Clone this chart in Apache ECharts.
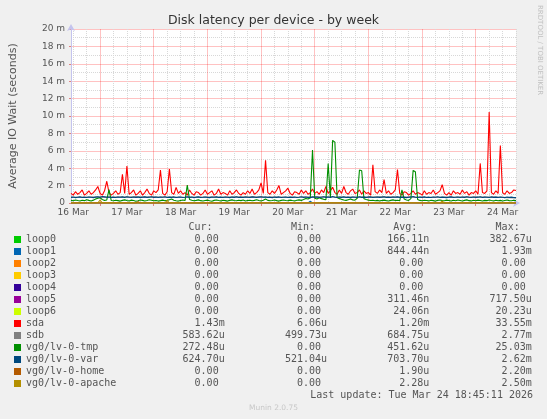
<!DOCTYPE html>
<html><head><meta charset="utf-8">
<script src="https://cdn.jsdelivr.net/npm/echarts@6/dist/echarts.min.js"></script>
<style>html,body{margin:0;padding:0;background:#f0f0f0}#c{width:547px;height:419px}</style>
</head><body><div id="c"></div>
<script>
// x axis: one category per hour, first hour = 16 Mar 11:00 (hour 11 after 16 Mar 00:00)
const firstHour = 11;
const hourCount = 200;
const dayLabels = ['16 Mar','17 Mar','18 Mar','19 Mar','20 Mar','21 Mar','22 Mar','23 Mar','24 Mar'];
const yTicks = [0,2,4,6,8,10,12,14,16,18,20];

const names = ['loop0','loop1','loop2','loop3','loop4','loop5','loop6','sda','sdb','vg0/lv-0-tmp','vg0/lv-0-var','vg0/lv-0-home','vg0/lv-0-apache'];
const colors = ['#00CC00','#0066B3','#FF8000','#FFCC00','#330099','#990099','#CCFF00','#FF0000','#808080','#008F00','#00487D','#B35A00','#B38F00'];
const curVals = ['0.00','0.00','0.00','0.00','0.00','0.00','0.00','1.43m','583.62u','272.48u','624.70u','0.00','0.00'];
const minVals = ['0.00','0.00','0.00','0.00','0.00','0.00','0.00','6.06u','499.73u','0.00','521.04u','0.00','0.00'];
const avgVals = ['166.11n','844.44n','0.00','0.00','0.00','311.46n','24.06n','1.20m','684.75u','451.62u','703.70u','1.90u','2.28u'];
const maxVals = ['382.67u','1.93m','0.00','0.00','0.00','717.50u','20.23u','33.55m','2.77m','25.03m','2.62m','2.20m','2.50m'];

// values in milliseconds
const sda = [
1.1,0.9,1.3,1.0,1.2,1.5,0.9,1.1,1.4,1.0,
1.2,1.5,1.9,1.1,0.9,1.4,2.5,1.2,0.9,1.1,
1.4,1.0,1.2,3.3,1.1,4.25,1.0,1.2,1.5,0.9,
1.1,1.4,0.9,1.2,1.6,1.1,0.9,1.4,1.2,1.5,
3.8,1.1,0.9,1.3,3.9,1.2,1.0,1.8,1.1,1.4,
1.0,1.2,0.9,1.5,1.1,0.9,1.3,1.2,0.9,1.1,
1.5,1.0,1.2,1.4,0.9,1.1,1.6,1.0,1.2,1.1,
0.9,1.4,1.0,1.2,1.5,1.1,0.9,1.2,1.0,1.4,
1.1,1.6,1.0,1.2,1.5,2.3,1.1,4.9,1.2,1.0,
1.4,1.1,1.5,2.0,1.0,1.2,1.4,1.7,1.1,0.9,
1.3,1.2,1.0,1.5,1.1,1.4,1.0,1.2,1.6,1.1,
1.3,1.0,1.5,1.2,1.9,1.1,1.4,1.8,1.2,1.0,
1.5,1.1,1.9,1.2,1.0,1.4,1.6,1.1,1.2,1.5,
1.0,1.4,1.1,1.2,0.9,4.4,1.3,1.1,1.5,1.2,
2.7,1.1,1.4,1.0,1.2,1.5,3.85,1.1,0.9,1.3,
1.2,0.9,1.1,1.4,1.0,1.2,1.1,0.9,1.4,1.0,
1.2,1.1,1.5,1.0,1.2,1.4,2.1,1.1,0.9,1.2,
0.9,1.4,1.1,1.2,1.0,1.5,1.1,1.3,0.9,1.2,
1.1,1.4,1.0,4.55,1.2,1.1,1.4,10.45,1.2,1.0,
1.4,1.1,6.6,1.2,1.0,1.4,1.1,1.2,1.5,1.43];

const lvVar = [
0.65,0.68,0.62,0.66,0.70,0.64,0.67,0.63,0.69,0.66,0.62,0.68,0.71,0.65,0.74,0.70,0.66,0.69,0.64,0.67,
0.63,0.68,0.66,0.70,0.64,0.72,0.67,0.63,0.69,0.65,0.68,0.62,0.66,0.70,0.64,0.67,0.71,0.65,0.68,0.63,
0.69,0.66,0.72,0.64,0.68,0.65,0.70,0.63,0.67,0.69,0.64,0.66,0.71,0.65,0.68,0.62,0.67,0.70,0.64,0.66,
0.69,0.65,0.62,0.68,0.66,0.70,0.64,0.67,0.63,0.69,0.66,0.62,0.68,0.65,0.71,0.64,0.67,0.63,0.69,0.66,
0.64,0.70,0.67,0.63,0.68,0.72,0.66,0.69,0.64,0.67,0.62,0.68,0.65,0.70,0.63,0.66,0.69,0.64,0.67,0.65,
0.68,0.63,0.66,0.71,0.65,0.69,0.64,0.62,0.70,0.66,0.68,0.63,0.67,0.72,0.65,0.69,0.64,0.75,0.66,0.63,
0.68,0.65,0.70,0.64,0.67,0.62,0.69,0.66,0.63,0.71,0.65,0.68,0.64,0.67,0.70,0.63,0.66,0.69,0.65,0.68,
0.72,0.64,0.67,0.63,0.69,0.66,0.70,0.64,0.68,0.65,0.62,0.67,0.69,0.74,0.66,0.63,0.68,0.65,0.70,0.64,
0.67,0.63,0.69,0.66,0.71,0.64,0.68,0.65,0.62,0.67,0.70,0.64,0.66,0.69,0.63,0.68,0.65,0.72,0.66,0.64,
0.69,0.65,0.67,0.71,0.64,0.68,0.66,0.63,0.70,0.65,0.67,0.64,0.69,0.66,0.62,0.68,0.65,0.67,0.64,0.62];

const lvTmp = [
0.30,0.25,0.35,0.28,0.22,0.32,0.27,0.38,0.30,0.24,0.33,0.45,0.55,0.60,0.40,0.30,0.35,1.55,0.28,0.25,
0.32,0.27,0.22,0.30,0.36,0.28,0.24,0.33,0.29,0.21,0.26,0.34,0.30,0.23,0.28,0.37,0.31,0.25,0.29,0.22,
0.27,0.33,0.25,0.30,0.38,0.45,0.32,0.26,0.22,0.29,0.34,0.28,2.05,0.40,0.31,0.25,0.30,0.36,0.27,0.23,
0.29,0.33,0.26,0.21,0.30,0.35,0.28,0.24,0.32,0.27,0.22,0.30,0.36,0.29,0.25,0.31,0.27,0.34,0.23,0.28,
0.32,0.26,0.30,0.37,0.28,0.24,0.31,0.45,0.30,0.25,0.28,0.34,0.27,0.22,0.30,0.35,0.29,0.26,0.33,0.28,
0.24,0.31,0.36,0.30,0.40,0.52,0.45,0.60,6.10,0.55,0.45,0.60,0.50,0.42,0.38,4.55,0.60,7.20,7.00,0.62,
0.50,0.42,0.35,0.30,0.38,0.45,0.36,0.33,0.55,3.80,3.70,0.48,0.40,0.33,0.28,0.31,0.26,0.30,0.24,0.29,
0.33,0.27,0.23,0.30,0.36,0.28,0.32,0.25,1.50,0.45,0.35,0.30,0.50,3.75,3.60,0.40,0.30,0.26,0.32,0.28,
0.24,0.31,0.27,0.22,0.30,0.35,0.28,0.25,0.33,0.29,0.23,0.31,0.26,0.34,0.28,0.22,0.30,0.36,0.27,0.24,
0.31,0.26,0.33,0.29,0.23,0.30,0.27,0.35,0.28,0.24,0.32,0.26,0.30,0.23,0.29,0.34,0.27,0.25,0.31,0.27];

// sparse series: [hour index, value]
const sdb = [[0,0.66],[10,0.69],[20,0.67],[30,0.70],[40,0.68],[50,0.66],[60,0.69],[70,0.67],[80,0.70],[90,0.68],[100,0.66],[110,0.71],[120,0.69],[130,0.67],[140,0.70],[150,0.68],[160,0.66],[170,0.69],[180,0.67],[190,0.68],[199,0.58]];
const loop0 = [[0,0],[199,0]];
const loop1 = [[0,0],[106,0],[107,0.2],[108,0],[199,0]];
const loop2 = [[0,0],[199,0]];
const loop3 = [[0,0],[199,0]];
const loop4 = [[0,0],[199,0]];
const loop5 = [[0,0],[199,0]];
const loop6 = [[0,0],[199,0]];
const lvHome = [[0,0],[29,0],[30,0.15],[31,0],[199,0]];
const lvApache = [[0,0],[12,0],[13,0.35],[14,0],[42,0],[43,0.3],[44,0],[165,0],[166,0.2],[167,0],[199,0]];

const seriesData = [loop0,loop1,loop2,loop3,loop4,loop5,loop6,sda,sdb,lvTmp,lvVar,lvHome,lvApache];

const categories = [];
for (let i = 0; i < hourCount; i++) categories.push(String(firstHour + i));

function cell(v){ return /[0-9]$/.test(v) ? v + ' ' : v; }
function row(i){
  let s = names[i];
  const c = cell(curVals[i]), mi = cell(minVals[i]), a = cell(avgVals[i]), mx = cell(maxVals[i]);
  s = s.padEnd(33 - c.length) + c;
  s = s.padEnd(50 - mi.length) + mi;
  s = s.padEnd(67 - a.length) + a;
  s = s.padEnd(84 - mx.length) + mx;
  return s;
}
const header = ''.padEnd(27) + 'Cur:' + ''.padEnd(13) + 'Min:' + ''.padEnd(13) + 'Avg:' + ''.padEnd(13) + 'Max:';

const MONO = 'DejaVu Sans Mono';
const MAJOR = 'rgba(255,0,0,0.24)';
const MINOR = '#d8d8d8';
function isMidnight(i){ return (i + firstHour) % 24 === 0; }
function isSixHour(i){ return (i + firstHour) % 6 === 0 && !isMidnight(i); }

const chart = echarts.init(document.getElementById('c'), null, {renderer:'canvas'});
chart.setOption({
  animation: false,
  backgroundColor: '#f0f0f0',
  textStyle: {fontFamily: 'DejaVu Sans'},
  title: {
    text: 'Disk latency per device - by week',
    left: 'center', top: 9,
    textStyle: {fontSize: 12.5, fontWeight: 'normal', color: '#333', fontFamily: 'DejaVu Sans'}
  },
  grid: {left: 66.5, right: 31, top: 29, bottom: 216, show: true, backgroundColor: '#ffffff', borderWidth: 0, containLabel: false},
  legend: {
    orient: 'vertical', left: 14, top: 233.5, padding: 0,
    itemWidth: 7, itemHeight: 7, itemGap: 0, icon: 'rect',
    selectedMode: false,
    data: names,
    formatter: function(name){ return row(names.indexOf(name)); },
    textStyle: {fontFamily: MONO, fontSize: 10, color: '#555', lineHeight: 12, padding: 0}
  },
  xAxis: [{
    type: 'category', data: categories, boundaryGap: false, position: 'bottom',
    axisLine: {show: true, lineStyle: {color: '#c4c4ee', width: 1}, symbol: ['none','arrow'], symbolSize: [6,7], symbolOffset: [0,4]},
    axisTick: {show: true, length: 3, interval: isMidnight, lineStyle: {color: '#e08080'}},
    axisLabel: {
      interval: function(i){ return (i + firstHour) % 24 === 12; },
      formatter: function(v){ return dayLabels[Math.floor(Number(v) / 24)]; },
      fontSize: 9, color: '#555', margin: 5, fontFamily: 'DejaVu Sans'
    },
    splitLine: {show: true, interval: isSixHour, lineStyle: {color: MINOR, type: [1,1], width: 1}}
  }, {
    type: 'category', data: categories, boundaryGap: false, position: 'top',
    axisLine: {show: false}, axisTick: {show: false}, axisLabel: {show: false},
    splitLine: {show: true, interval: isMidnight, lineStyle: {color: MAJOR, type: 'solid', width: 1}}
  }],
  yAxis: {
    type: 'value', min: yTicks[0], max: yTicks[yTicks.length-1], interval: 2,
    name: 'Average IO Wait (seconds)', nameLocation: 'middle', nameGap: 52,
    nameTextStyle: {fontSize: 11, color: '#555', fontFamily: 'DejaVu Sans'},
    axisLine: {show: true, lineStyle: {color: '#c4c4ee', width: 1}, symbol: ['none','arrow'], symbolSize: [6,7], symbolOffset: [0,5]},
    axisTick: {show: true, length: 2, lineStyle: {color: '#e08080'}},
    axisLabel: {formatter: function(v){ return v === 0 ? '0' : v + ' m'; }, fontSize: 9, color: '#555', margin: 6, fontFamily: 'DejaVu Sans'},
    splitLine: {show: true, lineStyle: {color: MAJOR, type: 'solid', width: 1}},
    minorTick: {show: false, splitNumber: 2},
    minorSplitLine: {show: true, lineStyle: {color: MINOR, type: [1,1], width: 1}}
  },
  series: names.map(function(n, k){
    return {
      name: n, type: 'line', data: seriesData[k], color: colors[k], xAxisIndex: 0,
      symbol: 'none', showSymbol: false, silent: true,
      lineStyle: {width: 1.1, color: colors[k]}, itemStyle: {color: colors[k]},
      emphasis: {disabled: true}, z: 2 + k * 0.01
    };
  }),
  graphic: [
    {type: 'text', left: 26, top: 222.5, style: {text: header, font: '10px "DejaVu Sans Mono"', fill: '#555'}},
    {type: 'text', x: 533, y: 395.7, style: {text: 'Last update: Tue Mar 24 18:45:11 2026', font: '10px "DejaVu Sans Mono"', fill: '#555', align: 'right', verticalAlign: 'middle'}},
    {type: 'text', x: 273.5, y: 408, style: {text: 'Munin 2.0.75', font: '7.5px "DejaVu Sans"', fill: '#c8c8c8', align: 'center', verticalAlign: 'middle'}},
    {type: 'text', x: 540, y: 5, rotation: -Math.PI/2, style: {text: 'RRDTOOL / TOBI OETIKER', font: '7px "DejaVu Sans"', fill: '#c0c0c0', align: 'left', verticalAlign: 'middle'}}
  ]
});
</script>
</body></html>
